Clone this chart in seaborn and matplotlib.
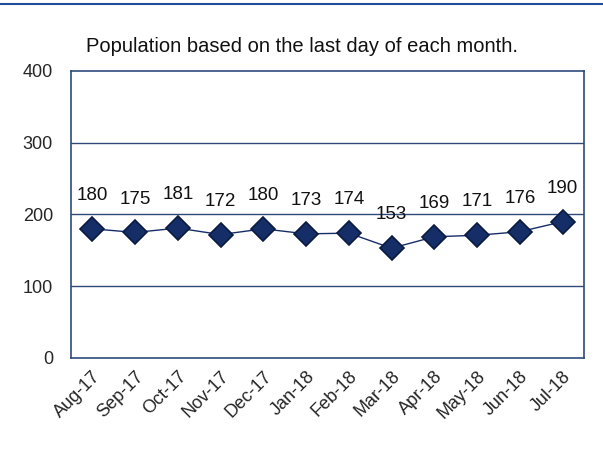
import matplotlib
matplotlib.use("Agg")
import matplotlib.pyplot as plt
import seaborn as sns
import pandas as pd
from matplotlib.lines import Line2D

# monthly population (last day of month)
months = ["Aug-17", "Sep-17", "Oct-17", "Nov-17", "Dec-17", "Jan-18",
          "Feb-18", "Mar-18", "Apr-18", "May-18", "Jun-18", "Jul-18"]
population = [180, 175, 181, 172, 180, 173, 174, 153, 169, 171, 176, 190]
y_ticks = [0, 100, 200, 300, 400]

df = pd.DataFrame({"month": months, "population": population})

sns.set_style("white")
plt.rcParams['font.family'] = ['Liberation Sans', 'DejaVu Sans']

navy = "#162E68"
frame = "#2F4A7A"

fig = plt.figure(figsize=(6.03, 4.49), dpi=100)
ax = fig.add_axes([0.1177, 0.2027, 0.8507, 0.6392])

sns.lineplot(data=df, x="month", y="population", ax=ax, sort=False,
             color=navy, linewidth=1.0, marker="D", markersize=12,
             markerfacecolor=navy, markeredgecolor="#0B1A40", markeredgewidth=1.2)

for i, v in enumerate(population):
    ax.annotate(str(v), (i, v), xytext=(0, 24), textcoords="offset points",
                ha="center", va="center", fontsize=13.5, color="#111111")

ax.set_xlim(-0.5, len(months) - 0.5)
ax.set_ylim(0, 400)
ax.set_yticks(y_ticks)
ax.set_yticklabels([str(t) for t in y_ticks], fontsize=13)
ax.set_xticks(range(len(months)))
ax.set_xticklabels(months, rotation=45, ha="right", rotation_mode="anchor", fontsize=13)
ax.tick_params(axis="y", length=0, pad=13)
ax.tick_params(axis="x", length=0, pad=7)
ax.set_xlabel("")
ax.set_ylabel("")

for y in [100, 200, 300]:
    ax.axhline(y, color=frame, linewidth=1.0, zorder=0)
for s in ax.spines.values():
    s.set_color(frame)
    s.set_linewidth(1.2)

fig.text(0.500, 0.897, "Population based on the last day of each month.",
         ha="center", va="center", fontsize=14.5, color="#111111")

fig.add_artist(Line2D([0, 1], [0.991, 0.991], color="#1F4E9F", linewidth=1.5,
                      transform=fig.transFigure))

fig.savefig("out.png", dpi=100)
